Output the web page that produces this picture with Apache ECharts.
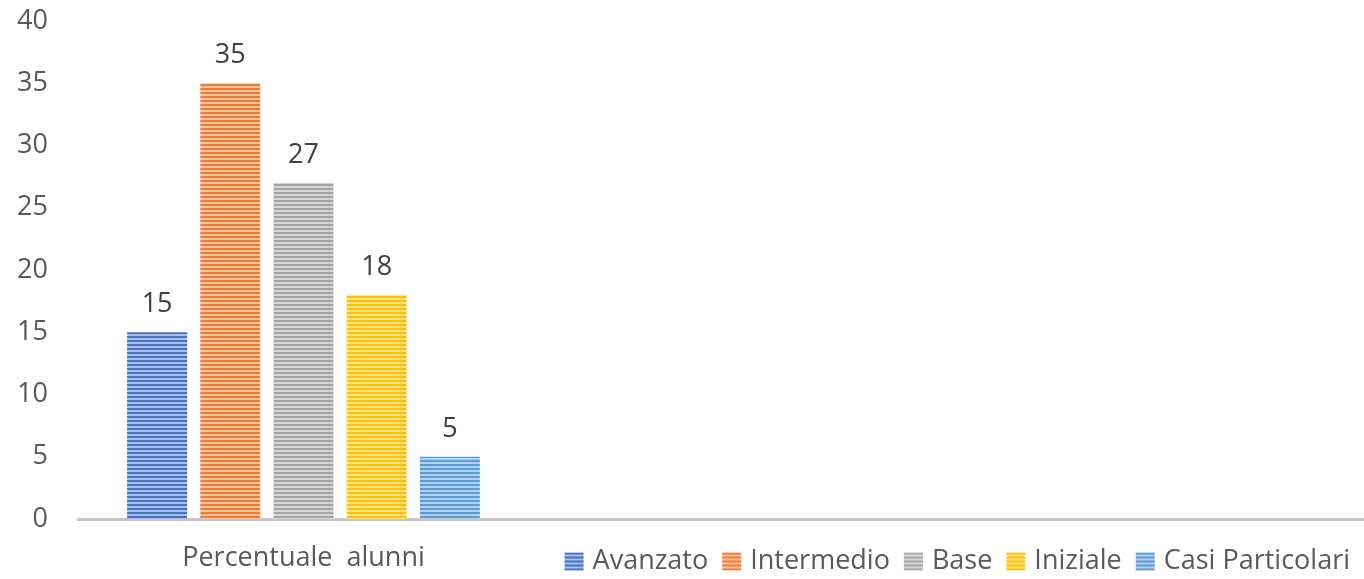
<!DOCTYPE html>
<html>
<head>
<meta charset="utf-8">
<script src="https://cdn.jsdelivr.net/npm/echarts@6/dist/echarts.min.js"></script>
<style>html,body{margin:0;padding:0;background:#fff;}#c{width:1364px;height:579px;}</style>
</head>
<body>
<div id="c"></div>
<script>
const categories = ['Percentuale  alunni', '', ''];
const seriesNames = ['Avanzato', 'Intermedio', 'Base', 'Iniziale', 'Casi Particolari'];
const seriesValues = [15, 35, 27, 18, 5];
const seriesColors = ['#4472C4', '#ED7D31', '#A5A5A5', '#FFC000', '#5B9BD5'];
const seriesLight = ['#a9bfe6', '#f7c3a0', '#d6d6d6', '#ffe28a', '#b3d0ec'];
const yTicks = { min: 0, max: 40, interval: 5 };

function stripe(c, l) {
  const cv = document.createElement('canvas');
  cv.width = 4; cv.height = 4;
  const ctx = cv.getContext('2d');
  ctx.fillStyle = c; ctx.fillRect(0, 0, 4, 2);
  ctx.fillStyle = l; ctx.fillRect(0, 2, 4, 2);
  return { image: cv, repeat: 'repeat' };
}

const font = '"Open Sans", "Noto Sans", sans-serif';
const chart = echarts.init(document.getElementById('c'));
chart.setOption({
  animation: false,
  grid: { left: 78, top: 21, bottom: 60, width: 1353, containLabel: false, outerBoundsMode: 'none' },
  legend: {
    right: 9, top: 543, itemWidth: 19, itemHeight: 18, itemGap: 14, icon: 'rect',
    textStyle: { color: '#595959', fontSize: 27, fontFamily: font, padding: [0, 0, 0, 4] },
    data: seriesNames
  },
  xAxis: {
    type: 'category', data: categories,
    axisLine: { lineStyle: { color: '#c6c6c6', width: 3 } },
    axisTick: { show: false },
    axisLabel: { color: '#595959', fontSize: 27, fontFamily: font, margin: 26 }
  },
  yAxis: {
    type: 'value', min: yTicks.min, max: yTicks.max, interval: yTicks.interval,
    splitLine: { show: false },
    axisLine: { show: false }, axisTick: { show: false },
    axisLabel: { color: '#595959', fontSize: 27, fontFamily: font, margin: 30 }
  },
  series: seriesNames.map((n, i) => ({
    name: n, type: 'bar', barWidth: 60, barGap: '22%',
    data: [seriesValues[i], null, null],
    itemStyle: { color: stripe(seriesColors[i], seriesLight[i]) },
    label: { show: true, position: 'top', distance: 14, color: '#404040', fontSize: 27, fontFamily: font }
  }))
});
</script>
</body>
</html>
